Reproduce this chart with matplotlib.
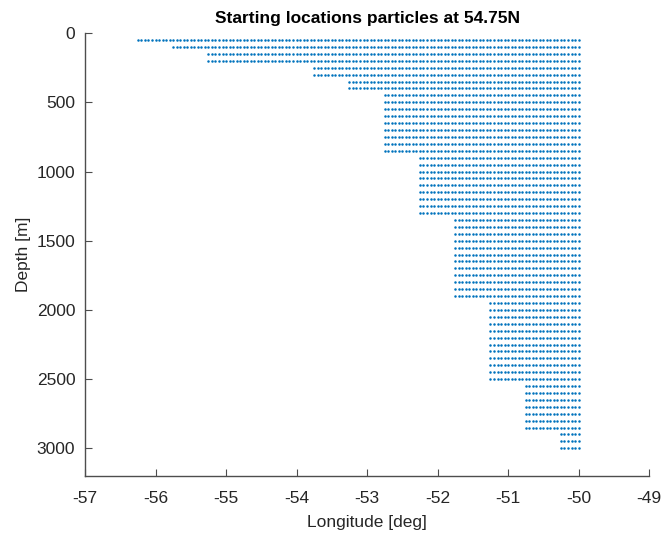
import numpy as np
from matplotlib import pyplot as plt

plt.rcParams['font.family'] = ['Liberation Sans', 'DejaVu Sans']
plt.rcParams['axes.unicode_minus'] = False

# particle release grid: each block of depths starts at a given longitude and runs east to -50
block_lon_start = [-56.25, -55.75, -55.25, -53.75, -53.25, -52.75, -52.25, -51.75, -51.25, -50.75, -50.25]
block_top = [50, 100, 150, 250, 350, 450, 900, 1350, 1950, 2550, 2900]
block_bottom = [50, 100, 200, 300, 400, 850, 1300, 1900, 2500, 2850, 3000]
lon_east = -50.0
lon_step = 0.05
depth_step = 50

lons = []
deps = []
for l0, d0, d1 in zip(block_lon_start, block_top, block_bottom):
    lg = np.arange(l0, lon_east + lon_step / 2, lon_step)
    dg = np.arange(d0, d1 + depth_step / 2, depth_step)
    L, D = np.meshgrid(lg, dg)
    lons.append(L.ravel())
    deps.append(D.ravel())
lons = np.concatenate(lons)
deps = np.concatenate(deps)

fig = plt.figure(figsize=(6.61, 5.34), dpi=100)
ax = fig.add_axes([0.1286, 0.1086, 0.8534, 0.8294])
ax.plot(lons, deps, '.', color='#0072BD', markersize=3.6, markeredgewidth=0)

ax.set_xlim(-57, -49)
ax.set_ylim(3200, 0)
ax.set_xticks(np.arange(-57, -48, 1))
ax.set_yticks(np.arange(0, 3001, 500))

axcol = '#4d4d4d'
for s in ['top', 'right']:
    ax.spines[s].set_visible(False)
for s in ['left', 'bottom']:
    ax.spines[s].set_color(axcol)
    ax.spines[s].set_linewidth(1.0)
ax.tick_params(direction='in', length=5, width=0.8, color=axcol, labelcolor='#262626',
               labelsize=12.5, pad=7)
ax.tick_params(axis='x', pad=11)

ax.set_xlabel('Longitude [deg]', fontsize=12.5, color='#262626', labelpad=6)
ax.set_ylabel('Depth [m]', fontsize=12.5, color='#262626', labelpad=4)
ax.set_title('Starting locations particles at 54.75N', fontsize=12.5, fontweight='bold', pad=7)

plt.savefig('out.png', dpi=100)
